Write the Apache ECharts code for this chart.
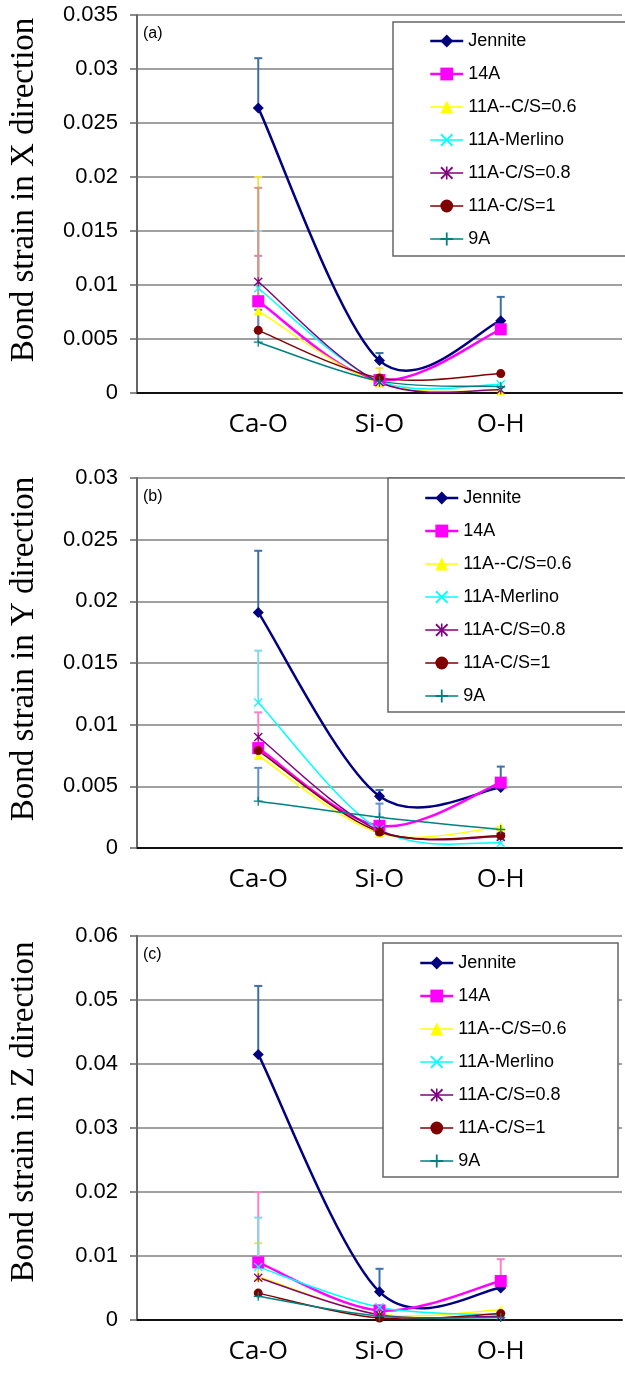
<!DOCTYPE html>
<html>
<head>
<meta charset="utf-8">
<script src="https://cdn.jsdelivr.net/npm/echarts@6/dist/echarts.min.js"></script>
<style>
  html, body { margin: 0; padding: 0; background: #fff; }
  #main { width: 625px; height: 1375px; }
</style>
</head>
<body>
<div id="main"></div>
<script>
// --- data ---
const categories = ['', 'Ca-O', 'Si-O', 'O-H', ''];
const seriesNames = ['Jennite', '14A', '11A--C/S=0.6', '11A-Merlino', '11A-C/S=0.8', '11A-C/S=1', '9A'];

// (a) X direction, values at Ca-O, Si-O, O-H
const xJennite = [0.0264, 0.0030, 0.0067];
const x14A = [0.0085, 0.0012, 0.0059];
const x11A06 = [0.0076, 0.0009, 0.0002];
const xMerlino = [0.0097, 0.0011, 0.0008];
const x11A08 = [0.0103, 0.0010, 0.0003];
const x11A1 = [0.0058, 0.0014, 0.0018];
const x9A = [0.0047, 0.0011, 0.0006];
// upper ends of error bars
const xJenniteErr = [0.031, 0.0037, 0.0089];
const x14AErr = [null, null, null];
const x11A06Err = [0.020, 0.0023, null];
const xMerlinoErr = [0.015, null, null];
const x11A08Err = [0.0127, null, null];
const x11A1Err = [0.019, null, null];
const x9AErr = [0.0077, null, null];

// (b) Y direction
const yJennite = [0.0191, 0.0042, 0.0049];
const y14A = [0.0081, 0.0018, 0.0053];
const y11A06 = [0.0075, 0.0012, 0.0017];
const yMerlino = [0.0118, 0.0015, 0.0004];
const y11A08 = [0.0090, 0.0014, 0.0009];
const y11A1 = [0.0079, 0.0013, 0.0010];
const y9A = [0.0038, 0.0025, 0.0015];
const yJenniteErr = [0.0241, 0.0047, 0.0066];
const y14AErr = [0.011, null, null];
const y11A06Err = [null, null, null];
const yMerlinoErr = [0.016, null, null];
const y11A08Err = [null, null, null];
const y11A1Err = [null, null, null];
const y9AErr = [0.0065, 0.0036, null];

// (c) Z direction
const zJennite = [0.0415, 0.0044, 0.0050];
const z14A = [0.0090, 0.0015, 0.0061];
const z11A06 = [0.0068, 0.0009, 0.0016];
const zMerlino = [0.0083, 0.0020, 0.0008];
const z11A08 = [0.0066, 0.0008, 0.0006];
const z11A1 = [0.0042, 0.0003, 0.0010];
const z9A = [0.0037, 0.0006, 0.0004];
const zJenniteErr = [0.0522, 0.0080, null];
const z14AErr = [0.020, null, 0.0095];
const z11A06Err = [0.012, null, null];
const zMerlinoErr = [0.016, null, null];
const z11A08Err = [null, null, null];
const z11A1Err = [null, null, null];
const z9AErr = [null, null, null];

const yMax = [0.035, 0.03, 0.06];
const yStep = [0.005, 0.005, 0.01];

// --- styles ---
const colors = ['#000080', '#ff00ff', '#ffff00', '#00ffff', '#800080', '#800000', '#008080'];
const errColors = ['#3d6fa8', '#ff80c8', '#f0e050', '#80d8ee', '#c58bc0', '#dc9484', '#5f8fcf'];
const symX = 'path://M0,1L1,0L5,4L9,0L10,1L6,5L10,9L9,10L5,6L1,10L0,9L4,5Z';
const symStar = 'path://M0,1L1,0L5,4L9,0L10,1L6,5L10,9L9,10L5,6L1,10L0,9L4,5Z M4.4,0H5.6V10H4.4Z';
const symPlus = 'path://M4.3,0H5.7V4.3H10V5.7H5.7V10H4.3V5.7H0V4.3H4.3Z';
const symbols = ['diamond', 'rect', 'triangle', symX, symStar, 'circle', symPlus];
const symbolSizes = [11, 12, 9, 9, 9, 9, 9];
const lineWidths = [2.5, 2.5, 1.5, 1.5, 1.5, 1.5, 1.5];

const panels = [
  { tag: '(a)', title: 'Bond strain in X direction', top: 15, height: 378, titleY: 190,
    vals: [xJennite, x14A, x11A06, xMerlino, x11A08, x11A1, x9A],
    errs: [xJenniteErr, x14AErr, x11A06Err, xMerlinoErr, x11A08Err, x11A1Err, x9AErr],
    box: [393, 22, 240, 234], legend: [429, 32] },
  { tag: '(b)', title: 'Bond strain in Y direction', top: 478, height: 370, titleY: 649,
    vals: [yJennite, y14A, y11A06, yMerlino, y11A08, y11A1, y9A],
    errs: [yJenniteErr, y14AErr, y11A06Err, yMerlinoErr, y11A08Err, y11A1Err, y9AErr],
    box: [388, 478, 245, 234], legend: [424, 489] },
  { tag: '(c)', title: 'Bond strain in Z direction', top: 936, height: 384, titleY: 1112,
    vals: [zJennite, z14A, z11A06, zMerlino, z11A08, z11A1, z9A],
    errs: [zJenniteErr, z14AErr, z11A06Err, zMerlinoErr, z11A08Err, z11A1Err, z9AErr],
    box: [383, 943, 235, 234], legend: [419, 954] }
];

function renderErr(params, api) {
  const lo = api.coord([api.value(0), api.value(1)]);
  const hi = api.coord([api.value(0), api.value(2)]);
  const c = errColors[api.value(3)];
  return {
    type: 'group',
    children: [
      { type: 'line', shape: { x1: lo[0], y1: lo[1], x2: hi[0], y2: hi[1] }, style: { stroke: c, lineWidth: 2 } },
      { type: 'line', shape: { x1: hi[0] - 4, y1: hi[1], x2: hi[0] + 4, y2: hi[1] }, style: { stroke: c, lineWidth: 2 } }
    ]
  };
}

// Excel-like smoothed line (Catmull-Rom -> Bezier), points from the axis scales
function makeCurve(vals, color, width) {
  return function (params, api) {
    if (params.dataIndex !== 0) return null;
    const pts = vals.map((v, k) => api.coord([k + 1, v]));
    let d = 'M' + pts[0][0] + ',' + pts[0][1];
    for (let k = 0; k < pts.length - 1; k++) {
      const p0 = pts[Math.max(k - 1, 0)], p1 = pts[k], p2 = pts[k + 1], p3 = pts[Math.min(k + 2, pts.length - 1)];
      const c1 = [p1[0] + (p2[0] - p0[0]) / 6, p1[1] + (p2[1] - p0[1]) / 6];
      const c2 = [p2[0] - (p3[0] - p1[0]) / 6, p2[1] - (p3[1] - p1[1]) / 6];
      d += 'C' + c1[0] + ',' + c1[1] + ',' + c2[0] + ',' + c2[1] + ',' + p2[0] + ',' + p2[1];
    }
    return { type: 'path', shape: { pathData: d }, style: { stroke: color, lineWidth: width, fill: null } };
  };
}

const grid = [], xAxis = [], yAxis = [], series = [], legend = [], graphic = [];

panels.forEach((p, i) => {
  grid.push({ left: 137, top: p.top, width: 492, height: p.height });
  xAxis.push({
    type: 'category', gridIndex: i, data: categories, boundaryGap: false,
    axisLine: { lineStyle: { color: '#111', width: 2 } },
    axisTick: { show: false },
    axisLabel: { fontFamily: 'Open Sans', fontSize: 26, color: '#000', margin: 19 },
    splitLine: { show: false }
  });
  yAxis.push({
    type: 'value', gridIndex: i, min: 0, max: yMax[i], interval: yStep[i],
    axisLine: { show: true, lineStyle: { color: '#666', width: 2 } },
    axisTick: { show: true, length: 7, lineStyle: { color: '#666', width: 1.5 } },
    axisLabel: { fontFamily: 'Liberation Sans', fontSize: 22, color: '#000', margin: 19 },
    splitLine: { lineStyle: { color: '#808080', width: 1.5 } }
  });

  // error bars
  const errData = [];
  p.errs.forEach((arr, j) => {
    arr.forEach((up, k) => {
      if (up != null) errData.push([k + 1, p.vals[j][k], up, j]);
    });
  });
  series.push({
    type: 'custom', name: 'err' + i, xAxisIndex: i, yAxisIndex: i, z: 1,
    renderItem: renderErr, encode: { x: 0, y: [1, 2] }, data: errData, silent: true
  });

  seriesNames.forEach((name, j) => {
    const pts = p.vals[j].map((v, k) => [k + 1, v]);
    // smoothed line
    series.push({
      type: 'custom', name: 'curve' + i + '-' + j, xAxisIndex: i, yAxisIndex: i, z: 2,
      renderItem: makeCurve(p.vals[j], colors[j], lineWidths[j]),
      encode: { x: 0, y: 1 }, data: pts, silent: true
    });
    // markers
    series.push({
      type: 'line', name: name, xAxisIndex: i, yAxisIndex: i, z: 3,
      data: [null].concat(p.vals[j], [null]),
      symbol: symbols[j], symbolSize: symbolSizes[j],
      color: colors[j],
      itemStyle: { color: colors[j] },
      lineStyle: { color: colors[j], width: lineWidths[j], opacity: 0 }
    });
  });

  legend.push({
    data: seriesNames.map((n, j) => ({
      name: n, lineStyle: { color: colors[j], width: lineWidths[j], opacity: 1 }
    })),
    orient: 'vertical', left: p.legend[0], top: p.legend[1],
    padding: 0, itemWidth: 33, itemHeight: 16, itemGap: 15, z: 6,
    textStyle: { fontFamily: 'Liberation Sans', fontSize: 18, color: '#000' }
  });

  graphic.push({
    type: 'rect', z: 5, shape: { x: p.box[0], y: p.box[1], width: p.box[2], height: p.box[3] },
    style: { fill: '#fff', stroke: '#666', lineWidth: 1.5 }
  });
  graphic.push({
    type: 'text', z: 5, left: 143, top: p.top + 11,
    style: { text: p.tag, font: '16px "Liberation Sans"', fill: '#000' }
  });
  graphic.push({
    type: 'text', z: 5, x: 24, y: p.titleY, rotation: Math.PI / 2,
    style: { text: p.title, font: '33px "Liberation Serif"', fill: '#000',
             textAlign: 'center', textVerticalAlign: 'middle' }
  });
});

const chart = echarts.init(document.getElementById('main'));
chart.setOption({
  animation: false,
  backgroundColor: '#fff',
  grid, xAxis, yAxis, series, legend, graphic
});
</script>
</body>
</html>
